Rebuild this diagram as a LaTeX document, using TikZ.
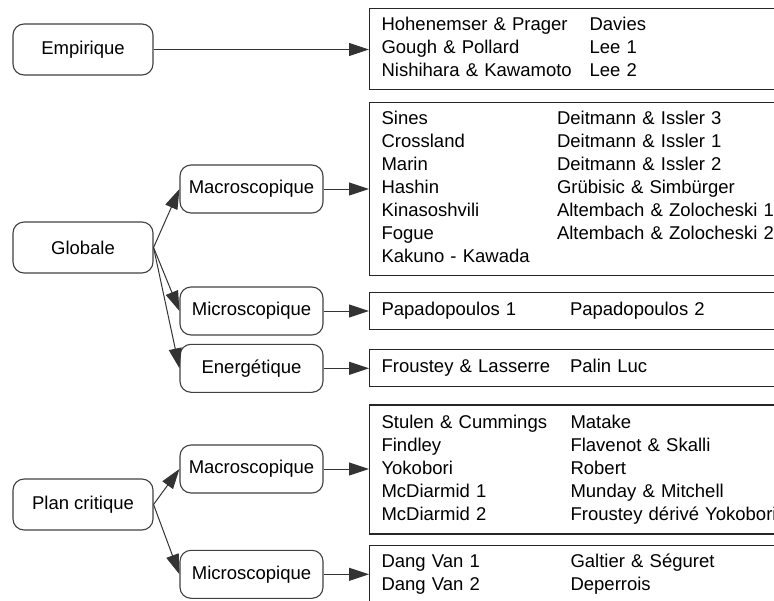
\documentclass[tikz,border=0pt]{standalone}
\usepackage{fontspec}
\setmainfont{Liberation Sans}
\usetikzlibrary{arrows.meta}
\begin{document}
\begin{tikzpicture}[x=1pt,y=-1pt,
  font=\fontsize{18.5pt}{23pt}\selectfont,
  famille/.style={draw=black!75,line width=1.1pt,rounded corners=11pt,minimum width=140pt,minimum height=51pt},
  sousfam/.style={draw=black!75,line width=1.1pt,rounded corners=11pt,minimum width=143pt,minimum height=48pt},
  liste/.style={draw=black!85,line width=1.1pt,anchor=west,text width=426pt,align=left,inner xsep=12pt,inner ysep=0pt},
  fleche/.style={-{Triangle[length=20pt,width=13pt]},draw=black!80,line width=1pt}]
\useasboundingbox (0,0) rectangle (774,600);
\clip (0,0) rectangle (774,600);

% Familles de criteres
\node[famille] (emp) at (83,49.5) {Empirique};
\node[famille] (glob) at (83,247.5) {Globale};
\node[famille] (plan) at (83,504.5) {Plan critique};

% Approches
\node[sousfam] (gmacro) at (251.5,189) {Macroscopique};
\node[sousfam] (gmicro) at (251.5,311) {Microscopique};
\node[sousfam] (gener) at (251.5,368.3) {Energétique};
\node[sousfam] (pmacro) at (251.5,469) {Macroscopique};
\node[sousfam] (pmicro) at (251.5,574.3) {Microscopique};

% Listes de criteres
\node[liste,minimum height=81pt] (emplist) at (369,48.8) {%
  \begin{tabular}{@{}p{208pt}@{}l@{}}
  Hohenemser \& Prager & Davies\\
  Gough \& Pollard & Lee 1\\
  Nishihara \& Kawamoto & Lee 2
  \end{tabular}};
\node[liste,minimum height=173pt] (gmacrolist) at (369,189.2) {%
  \begin{tabular}{@{}p{175.5pt}@{}l@{}}
  Sines & Deitmann \& Issler 3\\
  Crossland & Deitmann \& Issler 1\\
  Marin & Deitmann \& Issler 2\\
  Hashin & Grübisic \& Simbürger\\
  Kinasoshvili & Altembach \& Zolocheski 1\\
  Fogue & Altembach \& Zolocheski 2\\
  Kakuno - Kawada &
  \end{tabular}};
\node[liste,minimum height=37pt] (gmicrolist) at (369,311.3) {%
  \begin{tabular}{@{}p{188.5pt}@{}l@{}}
  Papadopoulos 1 & Papadopoulos 2
  \end{tabular}};
\node[liste,minimum height=37pt] (generlist) at (369,368.3) {%
  \begin{tabular}{@{}p{188.5pt}@{}l@{}}
  Froustey \& Lasserre & Palin Luc
  \end{tabular}};
\node[liste,minimum height=129pt] (pmacrolist) at (369,469.5) {%
  \begin{tabular}{@{}p{189pt}@{}l@{}}
  Stulen \& Cummings & Matake\\
  Findley & Flavenot \& Skalli\\
  Yokobori & Robert\\
  McDiarmid 1 & Munday \& Mitchell\\
  McDiarmid 2 & Froustey dérivé Yokobori
  \end{tabular}};
\node[liste,minimum height=58pt] (pmicrolist) at (369,574.2) {%
  \begin{tabular}{@{}p{189pt}@{}l@{}}
  Dang Van 1 & Galtier \& Séguret\\
  Dang Van 2 & Deperrois
  \end{tabular}};

% Fleches
\draw[fleche] (emp.east) -- (emp.east -| emplist.west);
\draw[fleche] (glob.east) -- (gmacro.west);
\draw[fleche] (glob.east) -- (gmicro.west);
\draw[fleche] (glob.east) -- (gener.west);
\draw[fleche] (plan.east) -- (pmacro.west);
\draw[fleche] (plan.east) -- (pmicro.west);
\draw[fleche] (gmacro.east) -- (gmacro.east -| gmacrolist.west);
\draw[fleche] (gmicro.east) -- (gmicro.east -| gmicrolist.west);
\draw[fleche] (gener.east) -- (gener.east -| generlist.west);
\draw[fleche] (pmacro.east) -- (pmacro.east -| pmacrolist.west);
\draw[fleche] (pmicro.east) -- (pmicro.east -| pmicrolist.west);

\end{tikzpicture}
\end{document}
